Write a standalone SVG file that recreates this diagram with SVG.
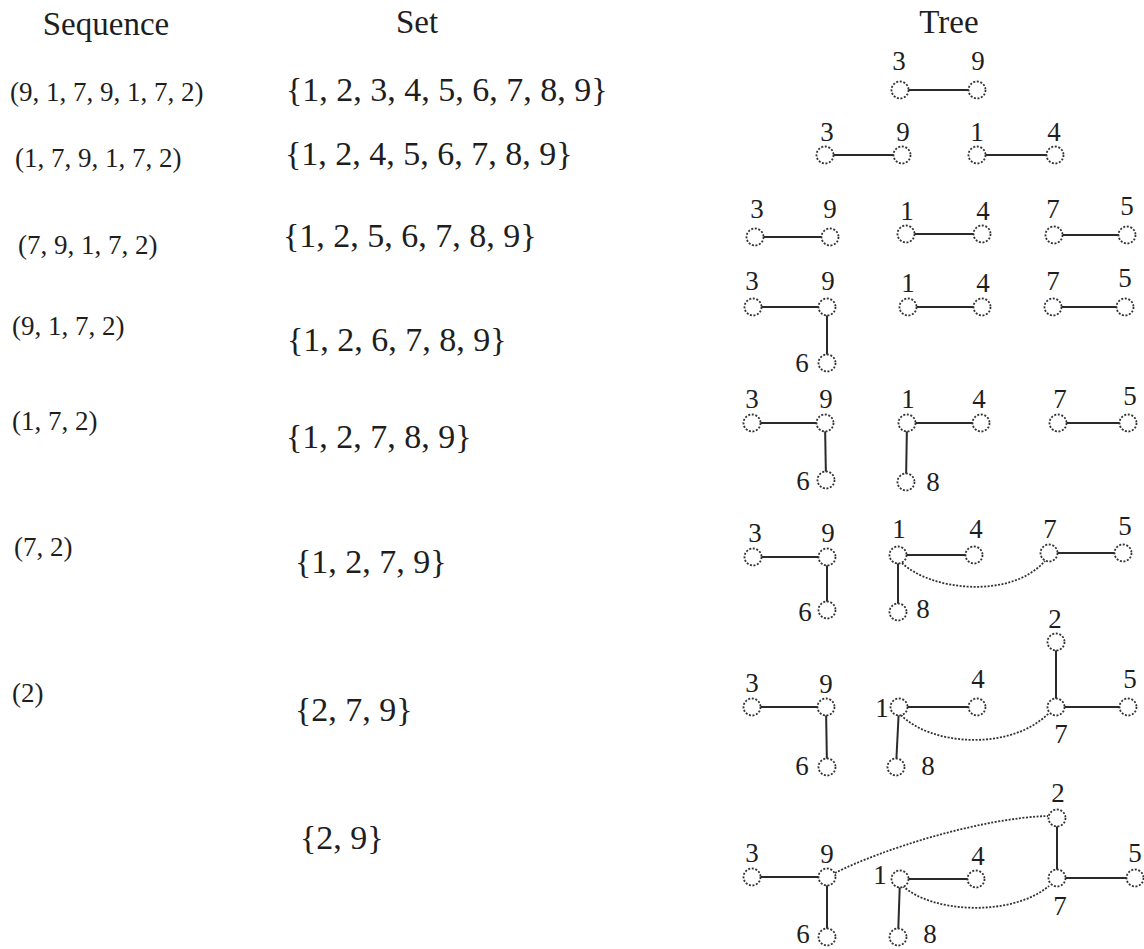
<svg xmlns="http://www.w3.org/2000/svg" width="1144" height="949" viewBox="0 0 1144 949" font-family="'Liberation Serif', 'DejaVu Serif', serif">
<style>
text{font-family:'Liberation Serif','DejaVu Serif',serif;fill:#1e1e1e}
.hd{font-size:33px;text-anchor:middle}
.sq{font-size:27px}
.st{font-size:34px}
.lb{font-size:27px;text-anchor:middle}
.e{stroke:#2a2a2a;stroke-width:2;fill:none}
.d{stroke:#333;stroke-width:1.8;fill:none;stroke-dasharray:2 1.5}
.n{fill:#fff;stroke:#333;stroke-width:1.8;stroke-dasharray:2 1.6}
</style>
<g id="headers">
<text class="hd" x="106" y="35">Sequence</text>
<text class="hd" x="417" y="33">Set</text>
<text class="hd" x="949" y="33">Tree</text>
</g>
<g id="sequences">
<text class="sq" x="10" y="101">(9, 1, 7, 9, 1, 7, 2)</text>
<text class="sq" x="15" y="167">(1, 7, 9, 1, 7, 2)</text>
<text class="sq" x="18" y="254">(7, 9, 1, 7, 2)</text>
<text class="sq" x="12" y="335">(9, 1, 7, 2)</text>
<text class="sq" x="12" y="430">(1, 7, 2)</text>
<text class="sq" x="14" y="556">(7, 2)</text>
<text class="sq" x="12" y="702">(2)</text>
</g>
<g id="sets">
<text class="st" x="286" y="101">{1, 2, 3, 4, 5, 6, 7, 8, 9}</text>
<text class="st" x="285" y="165">{1, 2, 4, 5, 6, 7, 8, 9}</text>
<text class="st" x="283" y="247">{1, 2, 5, 6, 7, 8, 9}</text>
<text class="st" x="287" y="351">{1, 2, 6, 7, 8, 9}</text>
<text class="st" x="286" y="448">{1, 2, 7, 8, 9}</text>
<text class="st" x="295" y="573">{1, 2, 7, 9}</text>
<text class="st" x="295" y="721">{2, 7, 9}</text>
<text class="st" x="300" y="849">{2, 9}</text>
</g>
<g id="connectors">
<line class="e" x1="900" y1="90" x2="977" y2="90"/>
<line class="e" x1="825" y1="155" x2="902" y2="155"/>
<line class="e" x1="977" y1="155" x2="1055" y2="155"/>
<line class="e" x1="755" y1="237" x2="830" y2="237"/>
<line class="e" x1="906" y1="234" x2="982" y2="234"/>
<line class="e" x1="1054" y1="235" x2="1127" y2="235"/>
<line class="e" x1="753" y1="307" x2="827" y2="307"/>
<line class="e" x1="827" y1="307" x2="827" y2="363"/>
<line class="e" x1="908" y1="307" x2="982" y2="307"/>
<line class="e" x1="1053" y1="307" x2="1125" y2="307"/>
<line class="e" x1="752" y1="423" x2="825" y2="423"/>
<line class="e" x1="825" y1="423" x2="826" y2="480"/>
<line class="e" x1="907" y1="423" x2="981" y2="423"/>
<line class="e" x1="907" y1="423" x2="906" y2="482"/>
<line class="e" x1="1058" y1="423" x2="1128" y2="423"/>
<line class="e" x1="753" y1="557" x2="827" y2="557"/>
<line class="e" x1="827" y1="557" x2="827" y2="610"/>
<line class="e" x1="898" y1="555" x2="974" y2="555"/>
<line class="e" x1="898" y1="555" x2="898" y2="612"/>
<line class="e" x1="1049" y1="553" x2="1123" y2="553"/>
<path class="d" d="M 902 563 C 930 590, 1010 600, 1045 561"/>
<line class="e" x1="752" y1="707" x2="826" y2="707"/>
<line class="e" x1="826" y1="707" x2="827" y2="767"/>
<line class="e" x1="899" y1="707" x2="977" y2="707"/>
<line class="e" x1="899" y1="707" x2="896" y2="767"/>
<line class="e" x1="1056" y1="707" x2="1128" y2="707"/>
<line class="e" x1="1056" y1="642" x2="1056" y2="707"/>
<path class="d" d="M 901 715 C 930 745, 1010 752, 1049 713"/>
<line class="e" x1="752" y1="877" x2="827" y2="877"/>
<line class="e" x1="827" y1="877" x2="827" y2="937"/>
<line class="e" x1="900" y1="879" x2="976" y2="879"/>
<line class="e" x1="900" y1="879" x2="898" y2="937"/>
<line class="e" x1="1057" y1="878" x2="1135" y2="878"/>
<line class="e" x1="1057" y1="818" x2="1057" y2="878"/>
<path class="d" d="M 903 886 C 930 912, 1010 918, 1049 886"/>
<path class="d" d="M 835 873 C 880 850, 980 818, 1048 816"/>
</g>
<g id="tree1">
<g id="t1-3"><circle class="n" cx="900" cy="90" r="8.5"/><text class="lb" x="899" y="70">3</text></g>
<g id="t1-9"><circle class="n" cx="977" cy="90" r="8.5"/><text class="lb" x="978" y="70">9</text></g>
</g>
<g id="tree2">
<g id="t2-3"><circle class="n" cx="825" cy="155" r="8.5"/><text class="lb" x="827" y="141">3</text></g>
<g id="t2-9"><circle class="n" cx="902" cy="155" r="8.5"/><text class="lb" x="903" y="141">9</text></g>
<g id="t2-1"><circle class="n" cx="977" cy="155" r="8.5"/><text class="lb" x="977" y="141">1</text></g>
<g id="t2-4"><circle class="n" cx="1055" cy="155" r="8.5"/><text class="lb" x="1054" y="141">4</text></g>
</g>
<g id="tree3">
<g id="t3-3"><circle class="n" cx="755" cy="237" r="8.5"/><text class="lb" x="757" y="218">3</text></g>
<g id="t3-9"><circle class="n" cx="830" cy="237" r="8.5"/><text class="lb" x="830" y="218">9</text></g>
<g id="t3-1"><circle class="n" cx="906" cy="234" r="8.5"/><text class="lb" x="907" y="220">1</text></g>
<g id="t3-4"><circle class="n" cx="982" cy="234" r="8.5"/><text class="lb" x="983" y="220">4</text></g>
<g id="t3-7"><circle class="n" cx="1054" cy="235" r="8.5"/><text class="lb" x="1053" y="218">7</text></g>
<g id="t3-5"><circle class="n" cx="1127" cy="235" r="8.5"/><text class="lb" x="1127" y="215">5</text></g>
</g>
<g id="tree4">
<g id="t4-3"><circle class="n" cx="753" cy="307" r="8.5"/><text class="lb" x="752" y="290">3</text></g>
<g id="t4-9"><circle class="n" cx="827" cy="307" r="8.5"/><text class="lb" x="828" y="290">9</text></g>
<g id="t4-1"><circle class="n" cx="908" cy="307" r="8.5"/><text class="lb" x="908" y="292">1</text></g>
<g id="t4-4"><circle class="n" cx="982" cy="307" r="8.5"/><text class="lb" x="983" y="292">4</text></g>
<g id="t4-7"><circle class="n" cx="1053" cy="307" r="8.5"/><text class="lb" x="1053" y="290">7</text></g>
<g id="t4-5"><circle class="n" cx="1125" cy="307" r="8.5"/><text class="lb" x="1125" y="287">5</text></g>
<g id="t4-6"><circle class="n" cx="827" cy="363" r="8.5"/><text class="lb" x="802" y="372">6</text></g>
</g>
<g id="tree5">
<g id="t5-3"><circle class="n" cx="752" cy="423" r="8.5"/><text class="lb" x="752" y="408">3</text></g>
<g id="t5-9"><circle class="n" cx="825" cy="423" r="8.5"/><text class="lb" x="826" y="408">9</text></g>
<g id="t5-1"><circle class="n" cx="907" cy="423" r="8.5"/><text class="lb" x="908" y="408">1</text></g>
<g id="t5-4"><circle class="n" cx="981" cy="423" r="8.5"/><text class="lb" x="979" y="408">4</text></g>
<g id="t5-7"><circle class="n" cx="1058" cy="423" r="8.5"/><text class="lb" x="1060" y="408">7</text></g>
<g id="t5-5"><circle class="n" cx="1128" cy="423" r="8.5"/><text class="lb" x="1130" y="405">5</text></g>
<g id="t5-6"><circle class="n" cx="826" cy="480" r="8.5"/><text class="lb" x="803" y="490">6</text></g>
<g id="t5-8"><circle class="n" cx="906" cy="482" r="8.5"/><text class="lb" x="933" y="491">8</text></g>
</g>
<g id="tree6">
<g id="t6-3"><circle class="n" cx="753" cy="557" r="8.5"/><text class="lb" x="755" y="542">3</text></g>
<g id="t6-9"><circle class="n" cx="827" cy="557" r="8.5"/><text class="lb" x="828" y="542">9</text></g>
<g id="t6-1"><circle class="n" cx="898" cy="555" r="8.5"/><text class="lb" x="899" y="538">1</text></g>
<g id="t6-4"><circle class="n" cx="974" cy="555" r="8.5"/><text class="lb" x="976" y="538">4</text></g>
<g id="t6-7"><circle class="n" cx="1049" cy="553" r="8.5"/><text class="lb" x="1050" y="538">7</text></g>
<g id="t6-5"><circle class="n" cx="1123" cy="553" r="8.5"/><text class="lb" x="1125" y="535">5</text></g>
<g id="t6-6"><circle class="n" cx="827" cy="610" r="8.5"/><text class="lb" x="805" y="621">6</text></g>
<g id="t6-8"><circle class="n" cx="898" cy="612" r="8.5"/><text class="lb" x="923" y="618">8</text></g>
</g>
<g id="tree7">
<g id="t7-2"><circle class="n" cx="1056" cy="642" r="8.5"/><text class="lb" x="1055" y="628">2</text></g>
<g id="t7-3"><circle class="n" cx="752" cy="707" r="8.5"/><text class="lb" x="752" y="692">3</text></g>
<g id="t7-9"><circle class="n" cx="826" cy="707" r="8.5"/><text class="lb" x="826" y="693">9</text></g>
<g id="t7-1"><circle class="n" cx="899" cy="707" r="8.5"/><text class="lb" x="882" y="717">1</text></g>
<g id="t7-4"><circle class="n" cx="977" cy="707" r="8.5"/><text class="lb" x="978" y="688">4</text></g>
<g id="t7-7"><circle class="n" cx="1056" cy="707" r="8.5"/><text class="lb" x="1061" y="743">7</text></g>
<g id="t7-5"><circle class="n" cx="1128" cy="707" r="8.5"/><text class="lb" x="1130" y="688">5</text></g>
<g id="t7-6"><circle class="n" cx="827" cy="767" r="8.5"/><text class="lb" x="802" y="775">6</text></g>
<g id="t7-8"><circle class="n" cx="896" cy="767" r="8.5"/><text class="lb" x="928" y="775">8</text></g>
</g>
<g id="tree8">
<g id="t8-2"><circle class="n" cx="1057" cy="818" r="8.5"/><text class="lb" x="1058" y="802">2</text></g>
<g id="t8-3"><circle class="n" cx="752" cy="877" r="8.5"/><text class="lb" x="752" y="862">3</text></g>
<g id="t8-9"><circle class="n" cx="827" cy="877" r="8.5"/><text class="lb" x="827" y="863">9</text></g>
<g id="t8-1"><circle class="n" cx="900" cy="879" r="8.5"/><text class="lb" x="880" y="884">1</text></g>
<g id="t8-4"><circle class="n" cx="976" cy="879" r="8.5"/><text class="lb" x="978" y="865">4</text></g>
<g id="t8-7"><circle class="n" cx="1057" cy="878" r="8.5"/><text class="lb" x="1060" y="915">7</text></g>
<g id="t8-5"><circle class="n" cx="1135" cy="878" r="8.5"/><text class="lb" x="1135" y="862">5</text></g>
<g id="t8-6"><circle class="n" cx="827" cy="937" r="8.5"/><text class="lb" x="803" y="943">6</text></g>
<g id="t8-8"><circle class="n" cx="898" cy="937" r="8.5"/><text class="lb" x="930" y="943">8</text></g>
</g>
</svg>
